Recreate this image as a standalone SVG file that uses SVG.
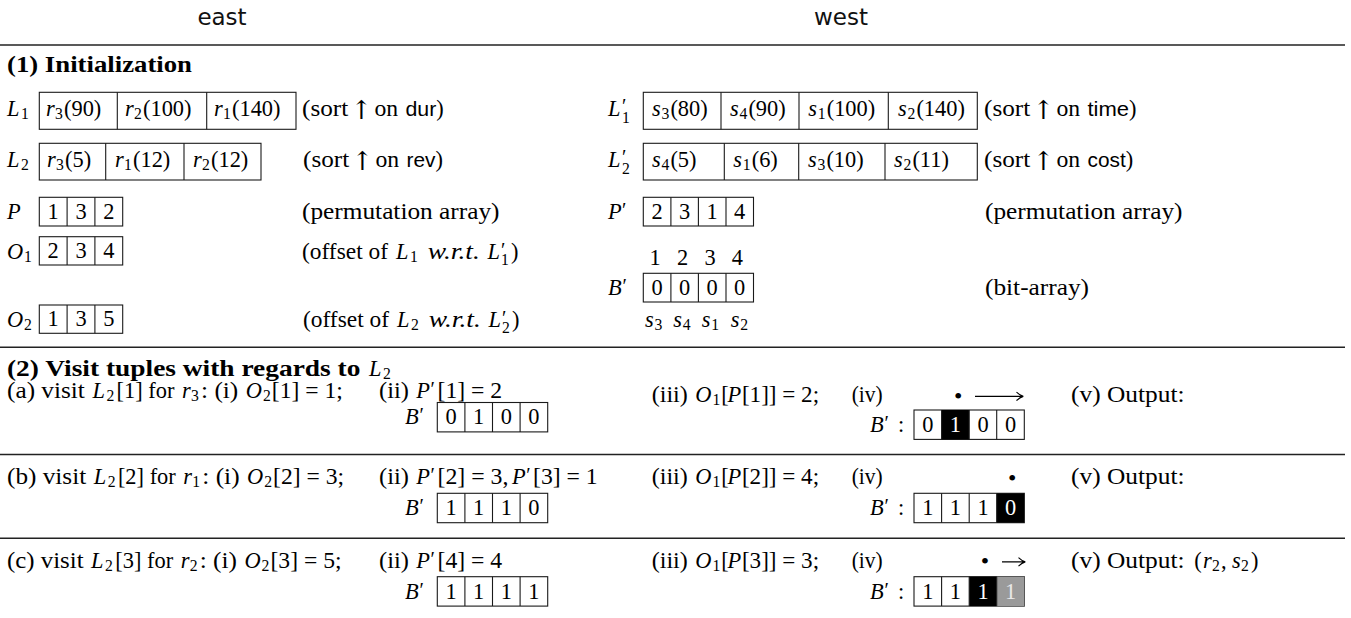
<svg xmlns="http://www.w3.org/2000/svg" width="1351" height="618" viewBox="0 0 1351 618">
<style>
.t{font-family:"Liberation Serif","Times New Roman",serif;font-size:22.4px;fill:#000}
.i{font-style:italic}
.sb{font-size:15.7px}
.bd{font-weight:bold}
.sf{font-family:"Liberation Sans",Arial,sans-serif;font-size:20px}
.pr{font-size:20px}
.ar{font-family:"DejaVu Serif","DejaVu Sans",serif;font-size:26px;text-anchor:middle;fill:#000}
.bu{font-size:24px}
.c{text-anchor:middle}
.w{fill:#fff}
.lg{fill:#e8e8e8}
.hd{font-family:"DejaVu Sans",sans-serif;font-size:23px;text-anchor:middle;fill:#111}
.bx{fill:#fff;stroke:#1a1a1a;stroke-width:1.1}
.dv{stroke:#1a1a1a;stroke-width:1.1;fill:none}
.rule{stroke:#222;stroke-width:1.4}
.arr{stroke:#000;stroke-width:1.1;fill:none}
</style>
<rect width="1351" height="618" fill="#fff"/>

<g id="header">
<text class="hd" x="222" y="25">east</text>
<text class="hd" x="841" y="25">west</text>
</g>

<g id="rules">
<line class="rule" x1="0" y1="45" x2="1345" y2="45"/>
<line class="rule" x1="0" y1="347.3" x2="1345" y2="347.3"/>
<line class="rule" x1="0" y1="454.5" x2="1345" y2="454.5"/>
<line class="rule" x1="0" y1="538.3" x2="1345" y2="538.3"/>
</g>

<g id="sec1-title"><text class="t bd" x="7" y="72" textLength="185" lengthAdjust="spacingAndGlyphs">(1) Initialization</text></g>

<g id="L1">
<text class="t" y="116"><tspan class="i" x="7">L</tspan><tspan class="sb" x="21" y="119.4">1</tspan></text>
<rect class="bx" x="39.3" y="92.3" width="256.7" height="37"/>
<path class="dv" d="M117.3 92.3V129.3M206.7 92.3V129.3"/>
<text class="t" y="116"><tspan class="i" x="46">r</tspan><tspan class="sb" x="55" y="119.4">3</tspan><tspan x="64" y="116">(90)</tspan></text>
<text class="t" y="116"><tspan class="i" x="125">r</tspan><tspan class="sb" x="134" y="119.4">2</tspan><tspan x="143" y="116">(100)</tspan></text>
<text class="t" y="116"><tspan class="i" x="214">r</tspan><tspan class="sb" x="223" y="119.4">1</tspan><tspan x="232" y="116">(140)</tspan></text>
<text class="t" x="302" y="116" textLength="46.2" lengthAdjust="spacingAndGlyphs">(sort</text>
<text class="ar" x="361.3" y="119">↑</text>
<text class="t" x="374.4" y="116" textLength="23.7" lengthAdjust="spacingAndGlyphs">on</text>
<text class="t sf" x="405.5" y="116" textLength="30.8" lengthAdjust="spacingAndGlyphs">dur</text>
<text class="t" x="436.3" y="116">)</text>
</g>

<g id="L2">
<text class="t" y="167"><tspan class="i" x="7">L</tspan><tspan class="sb" x="21" y="170.4">2</tspan></text>
<rect class="bx" x="39.3" y="143.3" width="221.7" height="36.7"/>
<path class="dv" d="M105.7 143.3V180M184 143.3V180"/>
<text class="t" y="167"><tspan class="i" x="47">r</tspan><tspan class="sb" x="56" y="170.4">3</tspan><tspan x="65" y="167">(5)</tspan></text>
<text class="t" y="167"><tspan class="i" x="115">r</tspan><tspan class="sb" x="124" y="170.4">1</tspan><tspan x="133" y="167">(12)</tspan></text>
<text class="t" y="167"><tspan class="i" x="193">r</tspan><tspan class="sb" x="202" y="170.4">2</tspan><tspan x="211" y="167">(12)</tspan></text>
<text class="t" x="303" y="167" textLength="46.2" lengthAdjust="spacingAndGlyphs">(sort</text>
<text class="ar" x="362.3" y="170">↑</text>
<text class="t" x="375.4" y="167" textLength="23.7" lengthAdjust="spacingAndGlyphs">on</text>
<text class="t sf" x="406.5" y="167" textLength="28.9" lengthAdjust="spacingAndGlyphs">rev</text>
<text class="t" x="435.4" y="167">)</text>
</g>

<g id="P">
<text class="t i" x="7" y="219">P</text>
<rect class="bx" x="39.3" y="197.3" width="83.4" height="28.7"/>
<path class="dv" d="M67.1 197.3V226M94.9 197.3V226"/>
<text class="t c" x="53.2" y="219">1</text><text class="t c" x="81" y="219">3</text><text class="t c" x="108.8" y="219">2</text>
<text class="t" x="302" y="219" textLength="197.5" lengthAdjust="spacingAndGlyphs">(permutation array)</text>
</g>

<g id="O1">
<text class="t" y="258.5"><tspan class="i" x="7">O</tspan><tspan class="sb" x="24" y="261.9">1</tspan></text>
<rect class="bx" x="39.3" y="236.7" width="83.4" height="28.3"/>
<path class="dv" d="M67.1 236.7V265M94.9 236.7V265"/>
<text class="t c" x="53.2" y="258.3">2</text><text class="t c" x="81" y="258.3">3</text><text class="t c" x="108.8" y="258.3">4</text>
<text class="t" x="302" y="258.5" textLength="86" lengthAdjust="spacingAndGlyphs">(offset of</text>
<text class="t" y="258.5"><tspan class="i" x="396">L</tspan><tspan class="sb" x="410" y="261.9">1</tspan></text>
<text class="t i" x="427.7" y="258.5" textLength="52.2" lengthAdjust="spacingAndGlyphs">w.r.t.</text>
<text class="t" y="258.5"><tspan class="i" x="487.4">L</tspan><tspan class="pr" x="501" y="256.5">′</tspan><tspan class="sb" x="501" y="264.5">1</tspan><tspan x="511" y="258.5">)</tspan></text>
</g>

<g id="O2">
<text class="t" y="326.5"><tspan class="i" x="7">O</tspan><tspan class="sb" x="24" y="329.9">2</tspan></text>
<rect class="bx" x="39.3" y="305" width="83.4" height="28.3"/>
<path class="dv" d="M67.1 305V333.3M94.9 305V333.3"/>
<text class="t c" x="53.2" y="326.3">1</text><text class="t c" x="81" y="326.3">3</text><text class="t c" x="108.8" y="326.3">5</text>
<text class="t" x="303" y="326.5" textLength="86" lengthAdjust="spacingAndGlyphs">(offset of</text>
<text class="t" y="326.5"><tspan class="i" x="397">L</tspan><tspan class="sb" x="411" y="329.9">2</tspan></text>
<text class="t i" x="428.7" y="326.5" textLength="52.2" lengthAdjust="spacingAndGlyphs">w.r.t.</text>
<text class="t" y="326.5"><tspan class="i" x="488.4">L</tspan><tspan class="pr" x="502" y="324.5">′</tspan><tspan class="sb" x="502" y="332.5">2</tspan><tspan x="512" y="326.5">)</tspan></text>
</g>

<g id="L1p">
<text class="t" y="116"><tspan class="i" x="608">L</tspan><tspan class="pr" x="622" y="113">′</tspan><tspan class="sb" x="622" y="123">1</tspan></text>
<rect class="bx" x="643.3" y="92.3" width="334" height="37"/>
<path class="dv" d="M721 92.3V129.3M799 92.3V129.3M888.3 92.3V129.3"/>
<text class="t" y="116"><tspan class="i" x="652">s</tspan><tspan class="sb" x="661.5" y="119.4">3</tspan><tspan x="670.4" y="116">(80)</tspan></text>
<text class="t" y="116"><tspan class="i" x="730">s</tspan><tspan class="sb" x="739.5" y="119.4">4</tspan><tspan x="748.4" y="116">(90)</tspan></text>
<text class="t" y="116"><tspan class="i" x="808.3">s</tspan><tspan class="sb" x="817.8" y="119.4">1</tspan><tspan x="826.7" y="116">(100)</tspan></text>
<text class="t" y="116"><tspan class="i" x="898">s</tspan><tspan class="sb" x="907.5" y="119.4">2</tspan><tspan x="916.4" y="116">(140)</tspan></text>
<text class="t" x="984" y="116" textLength="46.2" lengthAdjust="spacingAndGlyphs">(sort</text>
<text class="ar" x="1043.3" y="119">↑</text>
<text class="t" x="1056.4" y="116" textLength="23.7" lengthAdjust="spacingAndGlyphs">on</text>
<text class="t sf" x="1087.5" y="116" textLength="41.6" lengthAdjust="spacingAndGlyphs">time</text>
<text class="t" x="1129.1" y="116">)</text>
</g>

<g id="L2p">
<text class="t" y="167"><tspan class="i" x="608">L</tspan><tspan class="pr" x="622" y="164">′</tspan><tspan class="sb" x="622" y="174">2</tspan></text>
<rect class="bx" x="643.3" y="143.3" width="334" height="36.7"/>
<path class="dv" d="M724.3 143.3V180M798.7 143.3V180M885 143.3V180"/>
<text class="t" y="167"><tspan class="i" x="652">s</tspan><tspan class="sb" x="661.5" y="170.4">4</tspan><tspan x="670.4" y="167">(5)</tspan></text>
<text class="t" y="167"><tspan class="i" x="733.3">s</tspan><tspan class="sb" x="742.8" y="170.4">1</tspan><tspan x="751.7" y="167">(6)</tspan></text>
<text class="t" y="167"><tspan class="i" x="808">s</tspan><tspan class="sb" x="817.5" y="170.4">3</tspan><tspan x="826.4" y="167">(10)</tspan></text>
<text class="t" y="167"><tspan class="i" x="894">s</tspan><tspan class="sb" x="903.5" y="170.4">2</tspan><tspan x="912.4" y="167">(11)</tspan></text>
<text class="t" x="984" y="167" textLength="46.2" lengthAdjust="spacingAndGlyphs">(sort</text>
<text class="ar" x="1043.3" y="170">↑</text>
<text class="t" x="1056.4" y="167" textLength="23.7" lengthAdjust="spacingAndGlyphs">on</text>
<text class="t sf" x="1087.5" y="167" textLength="38.2" lengthAdjust="spacingAndGlyphs">cost</text>
<text class="t" x="1125.7" y="167">)</text>
</g>

<g id="Pp">
<text class="t" y="219"><tspan class="i" x="608">P</tspan><tspan class="pr" x="622" y="217">′</tspan></text>
<rect class="bx" x="643.3" y="197.3" width="110.2" height="28.7"/>
<path class="dv" d="M670.9 197.3V226M698.4 197.3V226M726 197.3V226"/>
<text class="t c" x="657.1" y="219">2</text><text class="t c" x="684.6" y="219">3</text><text class="t c" x="712.2" y="219">1</text><text class="t c" x="739.7" y="219">4</text>
<text class="t" x="985" y="219" textLength="197.5" lengthAdjust="spacingAndGlyphs">(permutation array)</text>
</g>

<g id="Bp">
<text class="t c" x="655" y="265">1</text><text class="t c" x="682.7" y="265">2</text><text class="t c" x="710" y="265">3</text><text class="t c" x="737.3" y="265">4</text>
<text class="t" y="294.5"><tspan class="i" x="608">B</tspan><tspan class="pr" x="622.5" y="292.5">′</tspan></text>
<rect class="bx" x="643.3" y="273.3" width="110.2" height="28.7"/>
<path class="dv" d="M670.9 273.3V302M698.4 273.3V302M726 273.3V302"/>
<text class="t c" x="657.1" y="294.5">0</text><text class="t c" x="684.6" y="294.5">0</text><text class="t c" x="712.2" y="294.5">0</text><text class="t c" x="739.7" y="294.5">0</text>
<text class="t" x="985" y="294.5" textLength="104" lengthAdjust="spacingAndGlyphs">(bit-array)</text>
<text class="t" y="327"><tspan class="i" x="645">s</tspan><tspan class="sb" x="654.5" y="330.4">3</tspan><tspan class="i" x="673.3" y="327">s</tspan><tspan class="sb" x="682.8" y="330.4">4</tspan><tspan class="i" x="701.7" y="327">s</tspan><tspan class="sb" x="711.2" y="330.4">1</tspan><tspan class="i" x="730.7" y="327">s</tspan><tspan class="sb" x="740.2" y="330.4">2</tspan></text>
</g>

<g id="sec2-title">
<text class="t bd" x="7" y="375.5" textLength="353.4" lengthAdjust="spacingAndGlyphs">(2) Visit tuples with regards to</text>
<text class="t" y="375.5"><tspan class="i" x="369">L</tspan><tspan class="sb" x="383" y="378.9">2</tspan></text>
</g>

<g id="row-a">
<text class="t" x="7" y="397.5" textLength="77.9" lengthAdjust="spacingAndGlyphs">(a) visit</text>
<text class="t" y="397.5"><tspan class="i" x="92.4">L</tspan><tspan class="sb" x="106.4" y="400.9">2</tspan></text>
<text class="t" x="116.6" y="397.5" textLength="57.9" lengthAdjust="spacingAndGlyphs">[1] for</text>
<text class="t" y="397.5"><tspan class="i" x="182">r</tspan><tspan class="sb" x="191" y="400.9">3</tspan></text>
<text class="t" x="201" y="397.5" textLength="37.3" lengthAdjust="spacingAndGlyphs">: (i)</text>
<text class="t" y="397.5"><tspan class="i" x="245.8">O</tspan><tspan class="sb" x="262.9" y="400.9">2</tspan></text>
<text class="t" x="271.8" y="397.5" textLength="71" lengthAdjust="spacingAndGlyphs">[1] = 1;</text>
<text class="t" x="379" y="397.5" textLength="29.9" lengthAdjust="spacingAndGlyphs">(ii)</text>
<text class="t" y="397.5"><tspan class="i" x="416.3">P</tspan><tspan class="pr" x="430.5" y="395.5">′</tspan></text>
<text class="t" x="437.5" y="397.5" textLength="64.7" lengthAdjust="spacingAndGlyphs">[1] = 2</text>
<text class="t" y="424"><tspan class="i" x="405">B</tspan><tspan class="pr" x="419.5" y="422">′</tspan></text>
<rect class="bx" x="437.3" y="402.5" width="110.4" height="29.4"/>
<path class="dv" d="M464.9 402.5V431.9M492.5 402.5V431.9M520.1 402.5V431.9"/>
<text class="t c" x="451.1" y="424">0</text><text class="t c" x="478.7" y="424">1</text><text class="t c" x="506.3" y="424">0</text><text class="t c" x="533.9" y="424">0</text>
<text class="t" x="651.7" y="402" textLength="36.1" lengthAdjust="spacingAndGlyphs">(iii)</text>
<text class="t" y="402"><tspan class="i" x="695.3">O</tspan><tspan class="sb" x="712.4" y="405.4">1</tspan><tspan x="721.3" y="402">[</tspan><tspan class="i" x="727.5">P</tspan></text>
<text class="t" x="741.9" y="402" textLength="77.2" lengthAdjust="spacingAndGlyphs">[1]] = 2;</text>
<text class="t" x="851.7" y="402" textLength="31" lengthAdjust="spacingAndGlyphs">(iv)</text>
<text class="t c bu" x="958.3" y="403.6">•</text>
<text class="t" x="1071" y="402" textLength="113.5" lengthAdjust="spacingAndGlyphs">(v) Output:</text>
<text class="t" y="431.5"><tspan class="i" x="870">B</tspan><tspan class="pr" x="884.5" y="429.5">′</tspan><tspan x="898" y="431.5">:</tspan></text>
<rect class="bx" x="914" y="410" width="110.3" height="29.4"/>
<rect x="941.6" y="410" width="27.6" height="29.4" fill="#000"/>
<path class="dv" d="M941.6 410V439.4M969.2 410V439.4M996.7 410V439.4"/>
<text class="t c" x="927.8" y="431.5">0</text><text class="t c w" x="955.4" y="431.5">1</text><text class="t c" x="983" y="431.5">0</text><text class="t c" x="1010.5" y="431.5">0</text>
</g>

<g id="row-b">
<text class="t" x="7" y="484" textLength="79.2" lengthAdjust="spacingAndGlyphs">(b) visit</text>
<text class="t" y="484"><tspan class="i" x="93.7">L</tspan><tspan class="sb" x="107.7" y="487.4">2</tspan></text>
<text class="t" x="117.9" y="484" textLength="57.9" lengthAdjust="spacingAndGlyphs">[2] for</text>
<text class="t" y="484"><tspan class="i" x="183.3">r</tspan><tspan class="sb" x="192.3" y="487.4">1</tspan></text>
<text class="t" x="202.3" y="484" textLength="37.3" lengthAdjust="spacingAndGlyphs">: (i)</text>
<text class="t" y="484"><tspan class="i" x="247.1">O</tspan><tspan class="sb" x="264.2" y="487.4">2</tspan></text>
<text class="t" x="273.1" y="484" textLength="71" lengthAdjust="spacingAndGlyphs">[2] = 3;</text>
<text class="t" x="379" y="484" textLength="29.9" lengthAdjust="spacingAndGlyphs">(ii)</text>
<text class="t" y="484"><tspan class="i" x="416.3">P</tspan><tspan class="pr" x="430.5" y="482">′</tspan></text>
<text class="t" x="437.5" y="484" textLength="71" lengthAdjust="spacingAndGlyphs">[2] = 3,</text>
<text class="t" y="484"><tspan class="i" x="512">P</tspan><tspan class="pr" x="526.2" y="482">′</tspan></text>
<text class="t" x="533" y="484" textLength="64.7" lengthAdjust="spacingAndGlyphs">[3] = 1</text>
<text class="t" y="515"><tspan class="i" x="405">B</tspan><tspan class="pr" x="419.5" y="513">′</tspan></text>
<rect class="bx" x="437.3" y="493.3" width="110.4" height="29.4"/>
<path class="dv" d="M464.9 493.3V522.7M492.5 493.3V522.7M520.1 493.3V522.7"/>
<text class="t c" x="451.1" y="515">1</text><text class="t c" x="478.7" y="515">1</text><text class="t c" x="506.3" y="515">1</text><text class="t c" x="533.9" y="515">0</text>
<text class="t" x="651.7" y="484" textLength="36.1" lengthAdjust="spacingAndGlyphs">(iii)</text>
<text class="t" y="484"><tspan class="i" x="695.3">O</tspan><tspan class="sb" x="712.4" y="487.4">1</tspan><tspan x="721.3" y="484">[</tspan><tspan class="i" x="727.5">P</tspan></text>
<text class="t" x="741.9" y="484" textLength="77.2" lengthAdjust="spacingAndGlyphs">[2]] = 4;</text>
<text class="t" x="851.7" y="484" textLength="31" lengthAdjust="spacingAndGlyphs">(iv)</text>
<text class="t c bu" x="1012.3" y="485.6">•</text>
<text class="t" x="1071" y="484" textLength="113.5" lengthAdjust="spacingAndGlyphs">(v) Output:</text>
<text class="t" y="515"><tspan class="i" x="870">B</tspan><tspan class="pr" x="884.5" y="513">′</tspan><tspan x="898" y="515">:</tspan></text>
<rect class="bx" x="914" y="493.3" width="110.3" height="29.4"/>
<rect x="996.7" y="493.3" width="27.6" height="29.4" fill="#000"/>
<path class="dv" d="M941.6 493.3V522.7M969.2 493.3V522.7M996.7 493.3V522.7"/>
<text class="t c" x="927.8" y="515">1</text><text class="t c" x="955.4" y="515">1</text><text class="t c" x="983" y="515">1</text><text class="t c w" x="1010.5" y="515">0</text>
</g>

<g id="row-c">
<text class="t" x="7" y="567.5" textLength="76.6" lengthAdjust="spacingAndGlyphs">(c) visit</text>
<text class="t" y="567.5"><tspan class="i" x="91.1">L</tspan><tspan class="sb" x="105.1" y="570.9">2</tspan></text>
<text class="t" x="115.3" y="567.5" textLength="57.9" lengthAdjust="spacingAndGlyphs">[3] for</text>
<text class="t" y="567.5"><tspan class="i" x="180.7">r</tspan><tspan class="sb" x="189.7" y="570.9">2</tspan></text>
<text class="t" x="199.7" y="567.5" textLength="37.3" lengthAdjust="spacingAndGlyphs">: (i)</text>
<text class="t" y="567.5"><tspan class="i" x="244.5">O</tspan><tspan class="sb" x="261.6" y="570.9">2</tspan></text>
<text class="t" x="270.5" y="567.5" textLength="71" lengthAdjust="spacingAndGlyphs">[3] = 5;</text>
<text class="t" x="379" y="567.5" textLength="29.9" lengthAdjust="spacingAndGlyphs">(ii)</text>
<text class="t" y="567.5"><tspan class="i" x="416.3">P</tspan><tspan class="pr" x="430.5" y="565.5">′</tspan></text>
<text class="t" x="437.5" y="567.5" textLength="64.7" lengthAdjust="spacingAndGlyphs">[4] = 4</text>
<text class="t" y="598.5"><tspan class="i" x="405">B</tspan><tspan class="pr" x="419.5" y="596.5">′</tspan></text>
<rect class="bx" x="437.3" y="576.7" width="110.4" height="29.4"/>
<path class="dv" d="M464.9 576.7V606.1M492.5 576.7V606.1M520.1 576.7V606.1"/>
<text class="t c" x="451.1" y="598.5">1</text><text class="t c" x="478.7" y="598.5">1</text><text class="t c" x="506.3" y="598.5">1</text><text class="t c" x="533.9" y="598.5">1</text>
<text class="t" x="651.7" y="567.5" textLength="36.1" lengthAdjust="spacingAndGlyphs">(iii)</text>
<text class="t" y="567.5"><tspan class="i" x="695.3">O</tspan><tspan class="sb" x="712.4" y="570.9">1</tspan><tspan x="721.3" y="567.5">[</tspan><tspan class="i" x="727.5">P</tspan></text>
<text class="t" x="741.9" y="567.5" textLength="77.2" lengthAdjust="spacingAndGlyphs">[3]] = 3;</text>
<text class="t" x="851.7" y="567.5" textLength="31" lengthAdjust="spacingAndGlyphs">(iv)</text>
<text class="t c bu" x="985" y="569.1">•</text>
<text class="t" x="1071" y="567.5" textLength="113.5" lengthAdjust="spacingAndGlyphs">(v) Output:</text>
<text class="t" y="567.5"><tspan x="1194.3">(</tspan><tspan class="i" x="1203">r</tspan><tspan class="sb" x="1212" y="570.9">2</tspan><tspan x="1221" y="567.5">,</tspan><tspan class="i" x="1231.9">s</tspan><tspan class="sb" x="1241" y="570.9">2</tspan><tspan x="1251" y="567.5">)</tspan></text>
<text class="t" y="598.5"><tspan class="i" x="870">B</tspan><tspan class="pr" x="884.5" y="596.5">′</tspan><tspan x="898" y="598.5">:</tspan></text>
<rect class="bx" x="914" y="576.7" width="110.3" height="29.4"/>
<rect x="969.2" y="576.7" width="27.5" height="29.4" fill="#000"/>
<rect x="996.7" y="576.7" width="27.6" height="29.4" fill="#9a9a9a"/>
<path class="dv" d="M941.6 576.7V606.1M969.2 576.7V606.1M996.7 576.7V606.1"/>
<text class="t c" x="927.8" y="598.5">1</text><text class="t c" x="955.4" y="598.5">1</text><text class="t c w" x="983" y="598.5">1</text><text class="t c lg" x="1010.5" y="598.5">1</text>
</g>

<g id="connectors">
<path class="arr" d="M975 396.4H1023M1016.5 392.2Q1020 395.6 1023.3 396.4Q1020 397.2 1016.5 400.6"/>
<path class="arr" d="M1002 561.9H1025M1018.5 557.7Q1022 561.1 1025.3 561.9Q1022 562.7 1018.5 566.1"/>
</g>
</svg>
